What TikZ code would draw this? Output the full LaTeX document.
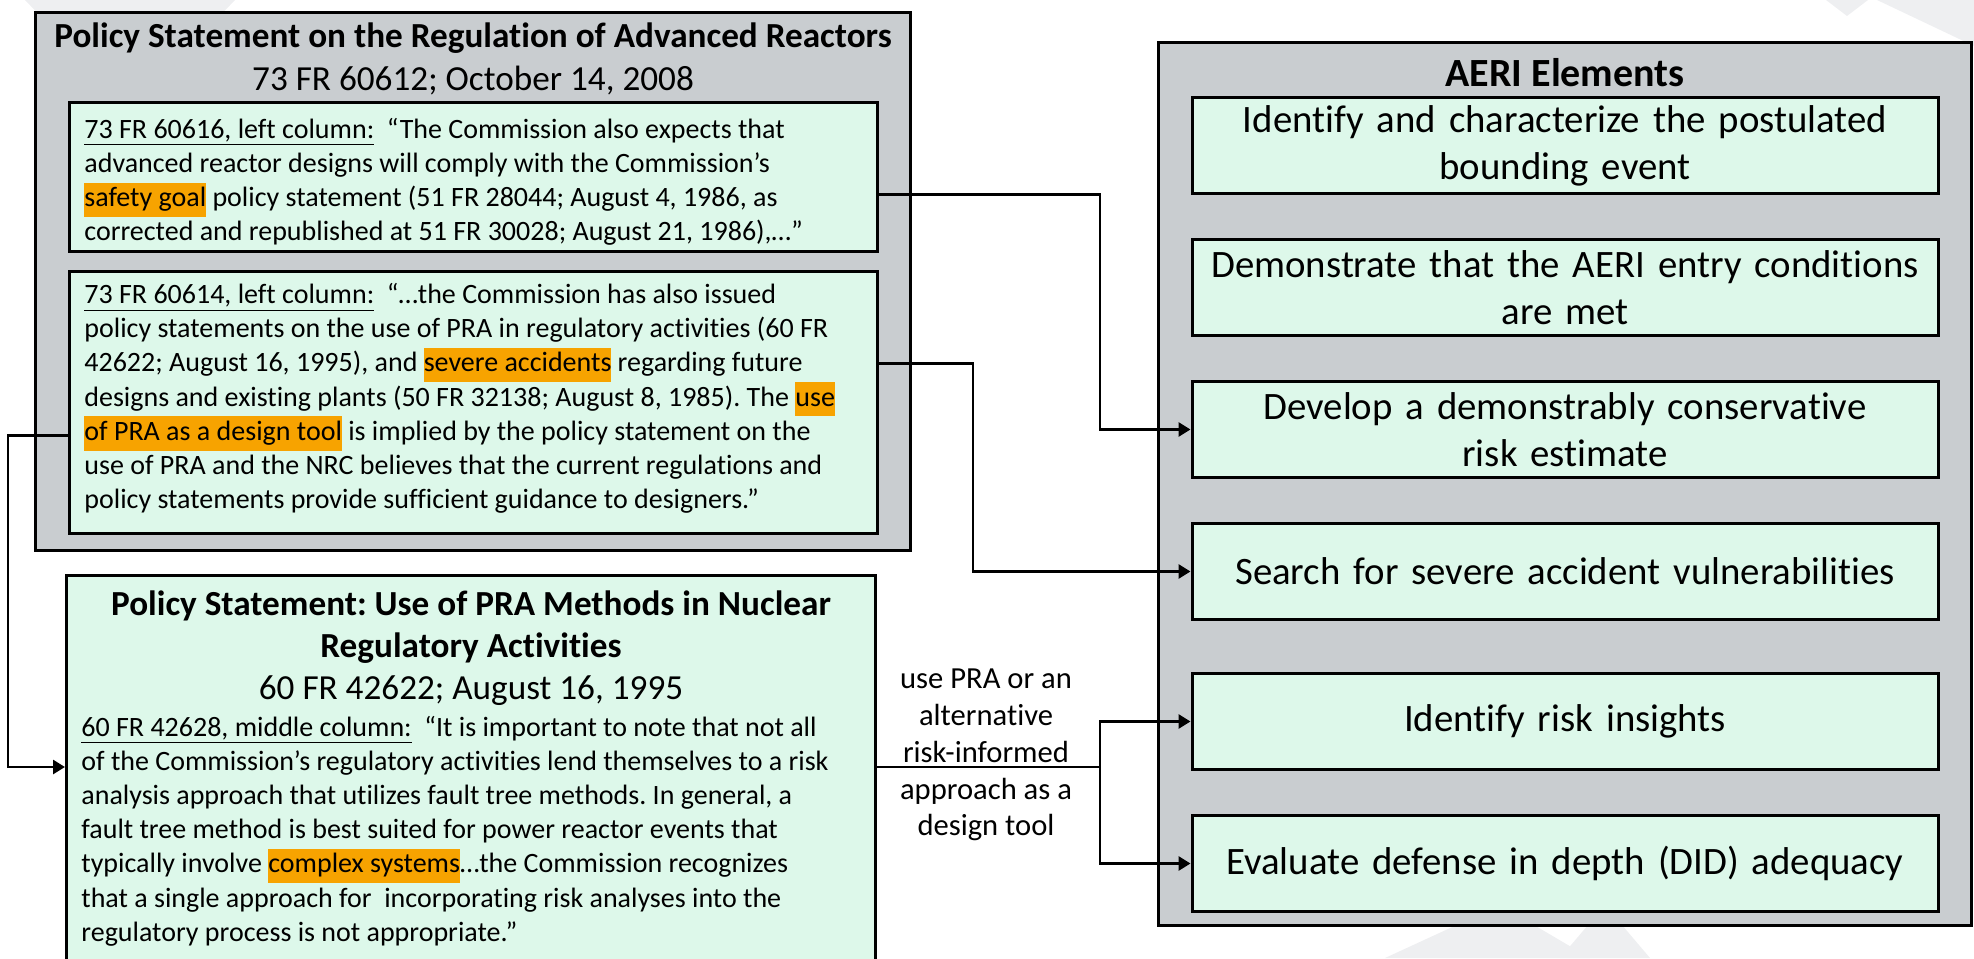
\documentclass[tikz,border=0pt]{standalone}
\usepackage{fontspec}
\setmainfont{Carlito}[Ligatures={NoCommon}]
\usetikzlibrary{positioning, calc, arrows.meta}
\definecolor{aeriGray}{HTML}{C9CDD0}
\definecolor{quoteGreen}{HTML}{DDF8EA}
\definecolor{hlOrange}{HTML}{F7A300}
\definecolor{markGray}{HTML}{EEEFF1}
\newcommand{\hlt}[1]{{\setlength{\fboxsep}{0pt}\colorbox{hlOrange}{\strut #1}}}
\frenchspacing

\begin{document}
\begin{tikzpicture}[x=0.5pt, y=-0.5pt, node distance=21.5pt,
	outerBox/.style={draw, line width=1.5pt, fill=aeriGray, inner sep=0pt},
	quoteBox/.style={draw, line width=1.5pt, fill=quoteGreen, minimum width=404pt, inner sep=0pt},
	quoteText/.style={align=left, inner sep=0pt, font=\fontsize{14}{17.1}\selectfont},
	aeriBox/.style={draw, line width=1.5pt, fill=quoteGreen, minimum width=373pt, minimum height=48pt, text width=362pt, inner xsep=5.5pt, inner ysep=0pt, align=center, font=\fontsize{19.4}{23.5}\selectfont},
	titleText/.style={align=center, inner sep=0pt, font=\fontsize{17.6}{21.5}\selectfont},
	link/.style={line width=1.4pt, -{Triangle[length=6pt, width=7pt]}}]
	\useasboundingbox (0,0) rectangle (1974,958);
	
	% faint background marks
	\fill[markGray] (25,0) -- (235,0) -- (130,110) -- cycle;
	\fill[markGray] (1826,0) -- (1868,0) -- (1847,16) -- cycle;
	\fill[markGray] (1877,0) -- (1974,0) -- (1974,46) -- cycle;
	\fill[markGray] (1385,958) -- (1500,905) -- (1590,958) -- cycle;
	\fill[markGray] (1560,958) -- (1605,905) -- (1650,958) -- cycle;
	
	% advanced reactor policy statement
	\node[outerBox, anchor=north west, minimum width=437.5pt, minimum height=269pt] (advRx) at (34,11) {};
	\node[titleText, below=5.5pt of advRx.north] (advRxTitle) {\textbf{Policy Statement on the Regulation of Advanced Reactors}\\73 FR 60612; October 14, 2008};
	\node[quoteBox, anchor=north west, minimum height=74.5pt] (safetyGoal) at (68,101) {};
	\node[quoteText, right=8pt of safetyGoal.west, yshift=-2.5pt] (safetyGoalText) {\underline{73 FR 60616, left column:}~ “The Commission also expects that\\
		advanced reactor designs will comply with the Commission’s\\
		\hlt{safety goal} policy statement (51 FR 28044; August 4, 1986, as\\
		corrected and republished at 51 FR 30028; August 21, 1986),…”};
	\node[quoteBox, below=8.5pt of safetyGoal, minimum height=131pt] (severeAcc) {};
	\node[quoteText, right=8pt of severeAcc.west, yshift=2pt] (severeAccText) {\underline{73 FR 60614, left column:}~ “…the Commission has also issued\\
		policy statements on the use of PRA in regulatory activities (60 FR\\
		42622; August 16, 1995), and \hlt{severe accidents} regarding future\\
		designs and existing plants (50 FR 32138; August 8, 1985). The \hlt{use}\\
		\hlt{of PRA as a design tool} is implied by the policy statement on the\\
		use of PRA and the NRC believes that the current regulations and\\
		policy statements provide sufficient guidance to designers.”};
	
	% PRA methods policy statement
	\node[quoteBox, anchor=north west, minimum width=404.5pt, minimum height=200pt] (praMethods) at (65,574) {};
	\node[titleText, below=8pt of praMethods.north, font=\fontsize{17.6}{21}\selectfont] (praTitle) {\textbf{Policy Statement: Use of PRA Methods in Nuclear}\\\textbf{Regulatory Activities}\\60 FR 42622; August 16, 1995};
	\coordinate (praBodyNW) at ([xshift=8pt]praMethods.west |- praTitle.south);
	\node[quoteText, below right=5pt and 0pt of praBodyNW] (praBody) {\underline{60 FR 42628, middle column:}~ “It is important to note that not all\\
		of the Commission’s regulatory activities lend themselves to a risk\\
		analysis approach that utilizes fault tree methods. In general, a\\
		fault tree method is best suited for power reactor events that\\
		typically involve \hlt{complex systems}…the Commission recognizes\\
		that a single approach for~ incorporating risk analyses into the\\
		regulatory process is not appropriate.”};
	
	% AERI elements
	\node[outerBox, anchor=north west, minimum width=406.5pt, minimum height=441.5pt] (aeri) at (1157,41) {};
	\node[titleText, below=8.5pt of aeri.north, font=\fontsize{20}{24}\selectfont] (aeriTitle) {\textbf{AERI Elements}};
	\node[aeriBox, below=27.5pt of aeri.north] (aeriA) {Identify and characterize the postulated\\bounding event};
	\node[aeriBox, below=of aeriA] (aeriB) {Demonstrate that the AERI entry conditions\\are met};
	\node[aeriBox, below=of aeriB] (aeriC) {Develop a demonstrably conservative\\risk estimate};
	\node[aeriBox, below=of aeriC] (aeriD) {Search for severe accident vulnerabilities};
	\node[aeriBox, below=25.5pt of aeriD] (aeriE) {Identify risk insights};
	\node[aeriBox, below=of aeriE] (aeriF) {Evaluate defense in depth (DID) adequacy};
	
	\node[align=center, inner sep=0pt, font=\fontsize{15.3}{18.4}\selectfont] (useLabel) at (986,755) {use PRA or an\\alternative\\risk-informed\\approach as a\\design tool};
	
	% connectors
	\coordinate (busL) at (8,0);
	\coordinate (busM) at (973,0);
	\coordinate (busR) at (1100,0);
	\coordinate (praRow) at (0,767);
	\draw[link] ([yshift=-8.75pt]safetyGoal.east) -| (busR |- aeriC.west) -- (aeriC.west);
	\draw[link] ([yshift=19.5pt]severeAcc.east) -| (busM |- aeriD.west) -- (aeriD.west);
	\draw[link] ([yshift=-16.5pt]severeAcc.west) -| (busL |- praRow) -- (praMethods.west |- praRow);
	\draw[line width=1.4pt] (praMethods.east |- praRow) -- (busR |- praRow);
	\draw[link] (busR |- praRow) |- (aeriE.west);
	\draw[link] (busR |- praRow) |- (aeriF.west);
\end{tikzpicture}
\end{document}
